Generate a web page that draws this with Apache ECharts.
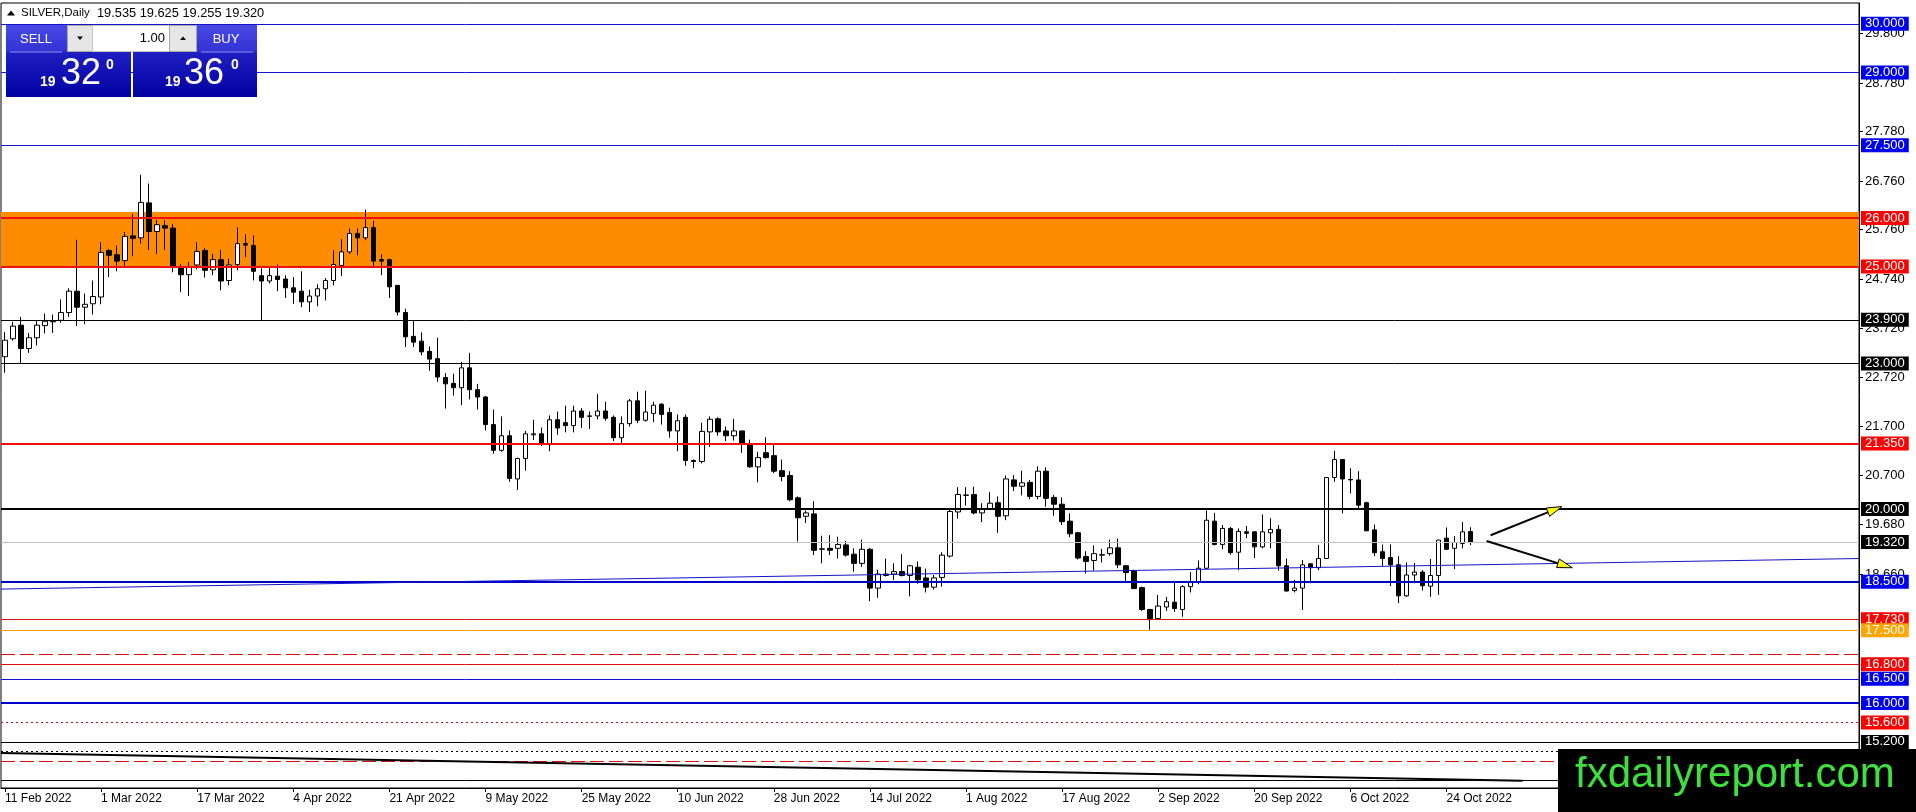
<!DOCTYPE html>
<html>
<head>
<meta charset="utf-8">
<script src="https://cdn.jsdelivr.net/npm/echarts@6.0.0/dist/echarts.min.js"></script>
<style>
html,body{margin:0;padding:0;background:#fff;}
#chart{width:1916px;height:812px;}
</style>
</head>
<body>
<div id="chart"></div>
<script>
// ---------------- DATA ----------------
const tradingDays = [
  ['2022-02', [11,14,15,16,17,18,21,22,23,24,25,28]],
  ['2022-03', [1,2,3,4,7,8,9,10,11,14,15,16,17,18,21,22,23,24,25,28,29,30,31]],
  ['2022-04', [1,4,5,6,7,8,11,12,13,14,18,19,20,21,22,25,26,27,28,29]],
  ['2022-05', [2,3,4,5,6,9,10,11,12,13,16,17,18,19,20,23,24,25,26,27,30,31]],
  ['2022-06', [1,2,3,6,7,8,9,10,13,14,15,16,17,20,21,22,23,24,27,28,29,30]],
  ['2022-07', [1,4,5,6,7,8,11,12,13,14,15,18,19,20,21,22,25,26,27,28,29]],
  ['2022-08', [1,2,3,4,5,8,9,10,11,12,15,16,17,18,19,22,23,24,25,26,29,30,31]],
  ['2022-09', [1,2,5,6,7,8,9,12,13,14,15,16,19,20,21,22,23,26,27,28,29,30]],
  ['2022-10', [3,4,5,6,7,10,11,12,13,14,17,18,19,20,21,24,25,26,27]]
];
const emptySlots = 48; // right-side empty space of the chart (future bars)
const labelEvery = 12;

const opens = [
23.14,23.51,23.79,23.31,23.53,23.78,23.86,23.89,24.05,24.49,
24.16,24.23,24.37,25.33,25.24,25.12,25.63,25.59,26.31,25.72,
25.84,25.79,24.99,24.83,25.03,25.33,24.93,25.14,24.71,25.04,
25.47,25.43,24.81,24.70,24.80,24.74,24.56,24.49,24.27,24.39,
24.54,24.71,25.02,25.30,25.68,25.59,25.80,25.14,25.14,24.61,
24.05,23.56,23.46,23.25,23.10,22.71,22.59,22.50,22.91,22.46,
22.31,21.74,21.21,21.51,20.62,21.04,21.53,21.55,21.35,21.84,
21.78,21.72,22.02,21.91,21.92,22.02,21.89,21.47,21.76,22.23,
21.83,21.97,22.16,21.99,21.61,21.89,21.00,20.98,21.59,21.86,
21.61,21.51,21.61,21.33,20.87,21.16,21.10,20.79,20.69,20.23,
19.85,19.90,19.17,19.19,19.19,19.26,19.07,18.88,19.17,18.37,
18.63,18.66,18.71,18.63,18.80,18.58,18.39,18.59,19.03,19.94,
20.28,20.30,19.92,20.00,20.13,19.86,20.60,20.47,20.55,20.26,
20.78,20.24,20.10,19.75,19.51,19.02,18.94,19.05,19.08,19.20,
18.83,18.73,18.38,17.93,17.74,17.98,18.08,17.93,18.40,18.49,
18.78,19.75,19.27,19.60,19.11,19.53,19.53,19.22,19.51,19.58,
18.83,18.32,18.37,18.87,18.79,18.98,20.65,21.02,20.61,20.60,
20.13,19.57,19.12,19.00,18.85,18.21,18.64,18.70,18.41,18.63,
19.40,19.19,19.29,19.535
];
const highs = [
23.65,23.86,23.96,23.63,23.89,24.03,24.01,24.32,24.55,25.55,
24.44,24.71,25.50,25.36,25.43,25.71,26.08,26.89,26.71,25.96,
25.95,25.88,25.05,25.09,25.50,25.38,25.26,25.34,25.16,25.81,
25.66,25.64,24.96,24.99,25.04,24.82,24.78,24.90,24.52,24.63,
24.76,25.33,25.56,25.78,25.78,26.17,25.94,25.25,25.16,24.61,
24.13,23.88,23.64,23.35,23.53,22.80,22.79,23.03,23.22,22.58,
22.33,22.05,21.91,21.62,21.06,21.61,21.84,21.68,21.93,22.01,
22.13,22.13,22.08,22.01,22.37,22.21,21.93,21.91,22.27,22.42,
22.44,22.21,22.18,22.09,21.95,21.95,21.02,21.78,21.91,21.89,
21.70,21.86,21.61,21.43,21.18,21.48,21.32,21.02,20.78,20.26,
19.97,20.16,19.45,19.46,19.43,19.34,19.19,19.37,19.20,18.75,
18.98,18.88,19.07,18.85,18.92,18.77,18.64,19.11,19.99,20.45,
20.45,20.46,20.12,20.35,20.26,20.69,20.70,20.79,20.60,20.88,
20.86,20.29,20.24,19.91,19.53,19.13,19.25,19.18,19.37,19.39,
18.85,18.75,18.40,17.94,18.23,18.19,18.49,18.43,18.70,18.94,
19.97,19.92,19.67,19.63,19.60,19.65,19.54,19.89,19.81,19.67,
18.98,18.54,18.95,18.88,19.26,20.66,21.20,21.03,20.84,20.78,
20.15,19.68,19.27,19.27,19.03,18.90,18.89,18.74,18.97,19.36,
19.62,19.44,19.73,19.625
];
const lows = [
22.81,23.47,23.01,23.22,23.37,23.62,23.63,23.84,23.96,23.77,
23.81,24.01,24.22,24.78,24.90,24.97,25.21,25.47,25.34,25.26,
25.34,24.88,24.47,24.39,24.94,24.77,24.82,24.51,24.61,24.92,
25.19,24.71,23.89,24.65,24.49,24.35,24.23,24.16,24.06,24.18,
24.30,24.61,24.80,25.26,25.23,25.54,25.00,24.82,24.35,23.99,
23.34,23.34,23.17,22.85,22.62,22.07,22.34,22.14,22.26,22.05,
21.62,21.14,21.18,20.56,20.39,20.79,21.42,21.30,21.19,21.53,
21.58,21.58,21.67,21.65,21.85,21.82,21.40,21.36,21.70,21.77,
21.80,21.79,21.74,21.47,21.19,20.89,20.84,20.94,21.28,21.51,
21.40,21.41,21.16,20.85,20.55,21.04,20.74,20.57,20.16,19.33,
19.71,19.05,18.88,19.05,18.98,19.02,18.71,18.81,18.10,18.17,
18.61,18.54,18.61,18.20,18.46,18.28,18.34,18.40,19.00,19.80,
20.07,19.89,19.73,19.99,19.51,19.77,20.37,20.28,20.20,20.20,
20.05,19.86,19.67,19.42,18.96,18.67,18.73,18.90,19.04,18.78,
18.49,18.35,17.90,17.51,17.72,17.90,17.88,17.78,18.28,18.45,
18.76,19.25,19.17,19.06,18.74,19.40,18.99,19.19,19.19,18.73,
18.30,18.28,17.92,18.47,18.74,18.97,20.56,19.91,20.32,19.98,
19.55,19.03,18.83,18.41,18.06,18.19,18.47,18.32,18.19,18.23,
19.16,18.76,19.19,19.255
];
const closes = [
23.48,23.77,23.31,23.53,23.79,23.87,23.87,24.05,24.49,24.16,
24.22,24.38,25.29,25.23,25.11,25.62,25.58,26.32,25.72,25.86,
25.79,24.99,24.83,25.00,25.31,24.92,25.14,24.70,25.03,25.47,
25.44,24.90,24.70,24.81,24.73,24.56,24.47,24.27,24.39,24.54,
24.71,25.04,25.30,25.68,25.59,25.80,25.11,25.11,24.58,24.06,
23.55,23.44,23.24,23.09,22.72,22.58,22.50,22.91,22.46,22.31,
21.74,21.21,21.51,20.63,21.04,21.55,21.55,21.35,21.84,21.67,
21.72,22.02,21.89,21.92,22.02,21.87,21.47,21.76,22.23,21.83,
22.00,22.14,21.95,21.61,21.82,21.00,20.98,21.60,21.85,21.59,
21.51,21.61,21.34,20.87,21.06,21.06,20.78,20.67,20.19,19.82,
19.92,19.15,19.18,19.15,19.27,19.05,18.88,19.17,18.37,18.66,
18.66,18.71,18.63,18.83,18.54,18.39,18.58,19.05,19.95,20.30,
20.29,19.92,19.99,20.12,19.85,20.62,20.47,20.54,20.26,20.78,
20.22,20.10,19.74,19.49,18.99,18.92,19.08,19.06,19.20,18.85,
18.69,18.36,17.93,17.74,18.00,18.09,17.95,18.40,18.49,18.78,
19.77,19.27,19.60,19.10,19.54,19.50,19.22,19.53,19.58,18.83,
18.31,18.37,18.85,18.79,18.98,20.65,21.02,20.62,20.60,20.08,
19.55,19.10,18.98,18.85,18.21,18.64,18.70,18.42,18.63,19.36,
19.17,19.31,19.53,19.32
];

const yTicks = [29.80, 28.78, 27.78, 26.76, 25.76, 24.74, 23.72, 22.72, 21.70, 20.70, 19.68, 18.66];
const yRange = [14.25, 30.43];

const levels = [30.0, 29.0, 27.5, 26.0, 25.0, 23.9, 23.0, 21.35, 20.0, 19.32, 18.5, 17.73, 17.5, 17.0, 16.8, 16.5, 16.0, 15.6, 15.2, 15.0, 14.8, 14.4];
const zone = [25.0, 26.12];
const trendBlue = [18.35, 18.98];   // values at left / right edge
const trendBlack = [14.97, 14.40];  // values at first bar / end
const trendBlackEnd = 189.5;        // bar index where it ends
const arrowUp = [185.5, 19.46, 194.4, 20.05];
const arrowDown = [185.0, 19.34, 195.7, 18.79];

const symbolName = 'SILVER,Daily';
const sellPrice = ['19', '32', '0'];
const buyPrice = ['19', '36', '0'];
const lotSize = '1.00';
const brand = 'fxdailyreport.com';

// ---------------- BUILD ----------------
const monthNames = ['Jan','Feb','Mar','Apr','May','Jun','Jul','Aug','Sep','Oct','Nov','Dec'];
const categories = [];
tradingDays.forEach(([ym, days]) => days.forEach(d => categories.push(ym + '-' + String(d).padStart(2, '0'))));
const dateCount = categories.length;
for (let i = 0; i < emptySlots; i++) categories.push('');
const nSlots = categories.length;

function fmtDate(s) {
  if (!s) return '';
  const [y, m, d] = s.split('-');
  return parseInt(d, 10) + ' ' + monthNames[parseInt(m, 10) - 1] + ' ' + y;
}
const shownTick = (i) => i % labelEvery === 0 && i < dateCount;

const candleData = opens.map((o, i) => [o, closes[i], lows[i], highs[i]]);
const last = candleData.length - 1;
const headerValues = [opens[last], highs[last], lows[last], closes[last]].map(v => v.toFixed(3)).join(' ');

// styles for each level (same order as levels)
const BLUE_L = '#1414c8', BLUE_B = '#0000f0', RED = '#f01010', RED_B = '#ff0000', BLK = '#000000', ORG = '#ffa500';
const levelStyles = [
  {c: BLUE_L, w: 1, box: BLUE_B},
  {c: BLUE_L, w: 1, box: BLUE_B},
  {c: BLUE_L, w: 1, box: BLUE_B},
  {c: RED, w: 2, box: RED_B},
  {c: RED, w: 2, box: RED_B},
  {c: BLK, w: 1, box: BLK},
  {c: BLK, w: 1, box: BLK},
  {c: RED, w: 2, box: RED_B},
  {c: BLK, w: 2, box: BLK},
  {c: '#c0c0c0', w: 1, box: BLK},
  {c: '#0000cd', w: 2, box: BLUE_B},
  {c: '#d81010', w: 1, box: RED_B},
  {c: ORG, w: 1, box: ORG},
  {c: '#d81010', w: 1, t: [14, 5], box: null},
  {c: '#d81010', w: 1, box: RED_B},
  {c: BLUE_L, w: 1, box: BLUE_B},
  {c: '#0000cd', w: 2, box: BLUE_B},
  {c: '#c01010', w: 1, t: [2, 3], box: RED_B},
  {c: BLK, w: 1, box: BLK},
  {c: BLK, w: 1, t: [2, 3], box: null},
  {c: '#d81010', w: 1, t: [14, 5], box: null},
  {c: BLK, w: 1, box: null}
];

const FONT = '"Liberation Sans", Arial, sans-serif';

const markLineData = levels.map((v, i) => {
  const s = levelStyles[i];
  return {
    yAxis: v,
    lineStyle: {color: s.c, width: s.w, type: s.t || 'solid'},
    label: s.box ? {
      show: true, position: 'end', distance: 2,
      formatter: () => v.toFixed(3),
      color: '#ffffff', backgroundColor: s.box,
      padding: [1, 4, 0, 4], fontSize: 13, lineHeight: 13,
      fontFamily: FONT
    } : {show: false}
  };
});
markLineData.push([
  {coord: [-0.5, trendBlue[0]], lineStyle: {color: '#1414c8', width: 1, type: 'solid'}, label: {show: false}},
  {coord: [nSlots - 0.5, trendBlue[1]]}
]);
markLineData.push([
  {coord: [-0.5, trendBlack[0]], lineStyle: {color: '#000', width: 2, type: 'solid'}, label: {show: false}},
  {coord: [trendBlackEnd, trendBlack[1]]}
]);

const blueGrad = {type: 'linear', x: 0, y: 0, x2: 0, y2: 1, colorStops: [{offset: 0, color: '#3030d6'}, {offset: 1, color: '#0202a2'}]};
const labelGrad = {type: 'linear', x: 0, y: 0, x2: 0, y2: 1, colorStops: [{offset: 0, color: '#4a4ae6'}, {offset: 1, color: '#3232d4'}]};

const graphics = [
  // header
  {type: 'polygon', z: 100, shape: {points: [[7, 15.5], [11, 10.5], [15, 15.5]]}, style: {fill: '#000'}},
  {type: 'text', z: 100, style: {x: 21, y: 13, text: symbolName, font: '11.5px ' + FONT, fill: '#000', textVerticalAlign: 'middle'}},
  {type: 'text', z: 100, style: {x: 97, y: 13, text: headerValues, font: '12.8px ' + FONT, fill: '#000', textVerticalAlign: 'middle'}},
  // sell / buy boxes
  {type: 'rect', z: 100, shape: {x: 6, y: 25, width: 125, height: 72}, style: {fill: blueGrad}},
  {type: 'rect', z: 100, shape: {x: 133, y: 25, width: 124, height: 72}, style: {fill: blueGrad}},
  {type: 'rect', z: 101, shape: {x: 6, y: 25, width: 61, height: 27}, style: {fill: labelGrad}},
  {type: 'rect', z: 101, shape: {x: 197, y: 25, width: 60, height: 27}, style: {fill: labelGrad}},
  {type: 'line', z: 102, shape: {x1: 10, y1: 52, x2: 62, y2: 52}, style: {stroke: '#8c8cf0', lineWidth: 1}},
  {type: 'line', z: 102, shape: {x1: 201, y1: 52, x2: 253, y2: 52}, style: {stroke: '#8c8cf0', lineWidth: 1}},
  {type: 'text', z: 103, style: {x: 36, y: 39, text: 'SELL', font: '13px ' + FONT, fill: '#fff', textAlign: 'center', textVerticalAlign: 'middle'}},
  {type: 'text', z: 103, style: {x: 226, y: 39, text: 'BUY', font: '13px ' + FONT, fill: '#fff', textAlign: 'center', textVerticalAlign: 'middle'}},
  // spinner
  {type: 'rect', z: 101, shape: {x: 67.5, y: 25.5, width: 129, height: 26}, style: {fill: '#f0f0f0', stroke: '#a8a8a8', lineWidth: 1}},
  {type: 'rect', z: 102, shape: {x: 67.5, y: 25.5, width: 25, height: 26}, style: {fill: '#e6e6e6', stroke: '#a8a8a8', lineWidth: 1}},
  {type: 'rect', z: 102, shape: {x: 92.5, y: 25.5, width: 77, height: 26}, style: {fill: '#ffffff', stroke: '#c8c8c8', lineWidth: 1}},
  {type: 'rect', z: 102, shape: {x: 169.5, y: 25.5, width: 27, height: 26}, style: {fill: '#e6e6e6', stroke: '#a8a8a8', lineWidth: 1}},
  {type: 'polygon', z: 103, shape: {points: [[77, 36.5], [83, 36.5], [80, 40]]}, style: {fill: '#000'}},
  {type: 'polygon', z: 103, shape: {points: [[180, 40], [186, 40], [183, 36.5]]}, style: {fill: '#000'}},
  {type: 'text', z: 103, style: {x: 165, y: 38, text: lotSize, font: '13px ' + FONT, fill: '#000', textAlign: 'right', textVerticalAlign: 'middle'}},
  // sell price
  {type: 'text', z: 103, style: {x: 40, y: 82, text: sellPrice[0], font: 'bold 14px ' + FONT, fill: '#fff', textVerticalAlign: 'middle'}},
  {type: 'text', z: 103, style: {x: 61, y: 74.5, text: sellPrice[1], font: '36px ' + FONT, fill: '#fff', textVerticalAlign: 'middle'}},
  {type: 'text', z: 103, style: {x: 106, y: 65, text: sellPrice[2], font: 'bold 14px ' + FONT, fill: '#fff', textVerticalAlign: 'middle'}},
  // buy price
  {type: 'text', z: 103, style: {x: 165, y: 82, text: buyPrice[0], font: 'bold 14px ' + FONT, fill: '#fff', textVerticalAlign: 'middle'}},
  {type: 'text', z: 103, style: {x: 184, y: 74.5, text: buyPrice[1], font: '36px ' + FONT, fill: '#fff', textVerticalAlign: 'middle'}},
  {type: 'text', z: 103, style: {x: 231, y: 65, text: buyPrice[2], font: 'bold 14px ' + FONT, fill: '#fff', textVerticalAlign: 'middle'}},
  // brand
  {type: 'rect', z: 110, shape: {x: 1558, y: 749, width: 358, height: 63}, style: {fill: '#000'}},
  {type: 'text', z: 111, style: {x: 1575, y: 775, text: brand, font: '42px ' + FONT, fill: '#3ee03e', textVerticalAlign: 'middle'}}
];

const chart = echarts.init(document.getElementById('chart'), null, {renderer: 'canvas'});
chart.setOption({
  animation: false,
  backgroundColor: '#ffffff',
  grid: {left: 1, right: 57, top: 3, bottom: 24, show: true, borderColor: '#000', borderWidth: 1, backgroundColor: '#ffffff'},
  xAxis: [
    {
      type: 'category', data: categories, boundaryGap: true,
      axisLine: {show: true, onZero: false, lineStyle: {color: '#000', width: 1}},
      axisTick: {show: true, alignWithLabel: true, interval: shownTick, length: 4, lineStyle: {color: '#000'}},
      axisLabel: {interval: shownTick, formatter: fmtDate, align: 'left', color: '#000', fontSize: 12, fontFamily: FONT, margin: 5},
      splitLine: {show: false}
    },
    {type: 'value', min: -0.5, max: nSlots - 0.5, show: false, axisLine: {onZero: false}}
  ],
  yAxis: {
    type: 'value', position: 'right', min: yRange[0], max: yRange[1],
    splitLine: {show: false},
    axisLine: {show: true, onZero: false, lineStyle: {color: '#000', width: 1}},
    axisTick: {show: true, length: 4, inside: false, customValues: yTicks, lineStyle: {color: '#000'}},
    axisLabel: {customValues: yTicks, formatter: v => v.toFixed(3), color: '#000', fontSize: 13, fontFamily: FONT, margin: 6}
  },
  series: [
    {
      type: 'line', xAxisIndex: 1, yAxisIndex: 0, data: [], z: 2, clip: false, silent: true,
      markArea: {silent: true, itemStyle: {color: '#ff8c00', opacity: 1}, label: {show: false}, emphasis: {disabled: true},
        data: [[{yAxis: zone[1]}, {yAxis: zone[0]}]]},
      markLine: {silent: true, symbol: ['none', 'none'], animation: false, emphasis: {disabled: true}, data: markLineData}
    },
    {
      type: 'candlestick', xAxisIndex: 0, yAxisIndex: 0, data: candleData, barWidth: 5, z: 3, silent: true,
      itemStyle: {color: '#ffffff', color0: '#000000', borderColor: '#000000', borderColor0: '#000000', borderColorDoji: '#000000', borderWidth: 1}
    },
    {
      type: 'custom', xAxisIndex: 1, yAxisIndex: 0, z: 5, silent: true, clip: false,
      data: [arrowUp, arrowDown],
      encode: {x: [0, 2], y: [1, 3]},
      renderItem: (params, api) => {
        const p1 = api.coord([api.value(0), api.value(1)]);
        const p2 = api.coord([api.value(2), api.value(3)]);
        const dx = p2[0] - p1[0], dy = p2[1] - p1[1];
        const len = Math.hypot(dx, dy), ux = dx / len, uy = dy / len;
        const hl = 15, hw = 4.5;
        const bx = p2[0] - ux * hl, by = p2[1] - uy * hl;
        const nx = -uy, ny = ux;
        return {type: 'group', children: [
          {type: 'line', shape: {x1: p1[0], y1: p1[1], x2: bx + ux * 3, y2: by + uy * 3}, style: {stroke: '#000', lineWidth: 2}},
          {type: 'polygon', shape: {points: [[p2[0], p2[1]], [bx + nx * hw, by + ny * hw], [bx - nx * hw, by - ny * hw]]},
            style: {fill: '#ffff00', stroke: '#000', lineWidth: 1}}
        ]};
      }
    }
  ],
  graphic: {elements: graphics}
});
</script>
</body>
</html>
